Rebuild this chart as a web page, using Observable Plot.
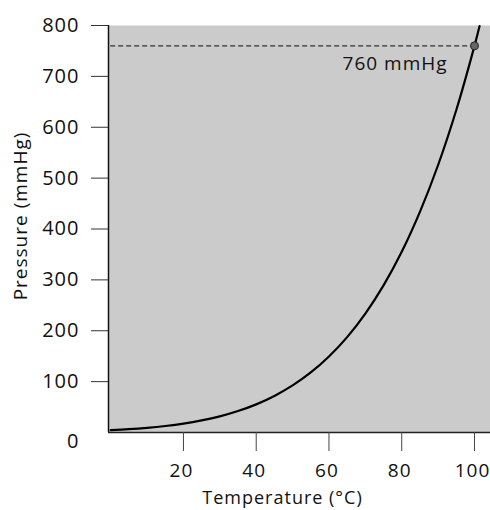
<!DOCTYPE html>
<html>
<head>
<meta charset="utf-8">
<script src="https://cdn.jsdelivr.net/npm/d3@7"></script>
<script src="https://cdn.jsdelivr.net/npm/@observablehq/plot@0.6"></script>
<style>
  html, body { margin: 0; padding: 0; background: #fff; }
  svg { display: block; }
</style>
</head>
<body>
<div id="chart"></div>
<script>
// Vapor pressure of water (mmHg) vs temperature (°C)
const temps = [0, 5, 10, 15, 20, 25, 30, 35, 40, 45, 50, 55, 60, 65, 70, 75, 80, 85, 90, 95, 100, 101.4];
const pressures = [4.6, 6.5, 9.2, 12.8, 17.5, 23.8, 31.8, 42.2, 55.3, 71.9, 92.5, 118.0, 149.4, 187.5, 233.7, 289.1, 355.1, 433.6, 525.8, 633.9, 760, 799];
const xTicks = [20, 40, 60, 80, 100];
const yTicks = [100, 200, 300, 400, 500, 600, 700, 800];
const boilTemp = [100];
const boilPressure = [760];
const boilLabel = ["760 mmHg"];

const curve = temps.map((t, i) => ({t, p: pressures[i]}));
const font = "'Open Sans', sans-serif";

const chart = Plot.plot({
  width: 490,
  height: 510,
  marginLeft: 108,
  marginRight: 0,
  marginTop: 25,
  marginBottom: 78,
  style: {fontFamily: font, fontSize: "19px", color: "#111", background: "#fff", letterSpacing: "1px"},
  x: {domain: [-0.6, 104.4]},
  y: {domain: [0, 800]},
  marks: [
    Plot.frame({fill: "#cbcbcb", stroke: null}),
    Plot.ruleY(boilPressure, {y: d => d, x1: 0, x2: boilTemp[0], stroke: "#333", strokeWidth: 1.3, strokeDasharray: "5,3"}),
    Plot.line(curve, {x: "t", y: "p", curve: "catmull-rom", stroke: "#000", strokeWidth: 2.2}),
    Plot.dot(boilTemp.map((t, i) => ({t, p: boilPressure[i]})), {x: "t", y: "p", r: 4, fill: "#666", stroke: "#222", strokeWidth: 1}),
    Plot.text(boilLabel, {x: 92.6, y: 725, text: d => d, textAnchor: "end", fontSize: 19, fill: "#111"}),
    Plot.ruleX([-0.6], {stroke: "#111", strokeWidth: 1.5}),
    Plot.ruleY([0], {stroke: "#222", strokeWidth: 1.5}),
    Plot.axisY(yTicks, {tickSize: 17, tickPadding: 12, fontSize: 20, stroke: "#333", label: null}),
    Plot.axisY([0], {tickSize: 0, tickPadding: 29, dy: 9, fontSize: 20, label: null}),
    Plot.axisX(xTicks, {tickSize: 19, tickFormat: () => "", stroke: "#444", label: null}),
    Plot.text(xTicks, {x: d => d, frameAnchor: "bottom", dy: 38, dx: -2, text: d => String(d), fontSize: 19, letterSpacing: "0px", lineAnchor: "middle", textAnchor: "middle"}),
    Plot.text(["Temperature (°C)"], {frameAnchor: "bottom", dy: 71, dx: -17, text: d => d, fontSize: 18}),
    Plot.text(["Pressure (mmHg)"], {frameAnchor: "left", textAnchor: "middle", dx: -88, dy: -13, rotate: -90, text: d => d, fontSize: 19})
  ]
});
document.getElementById("chart").appendChild(chart);
</script>
</body>
</html>
